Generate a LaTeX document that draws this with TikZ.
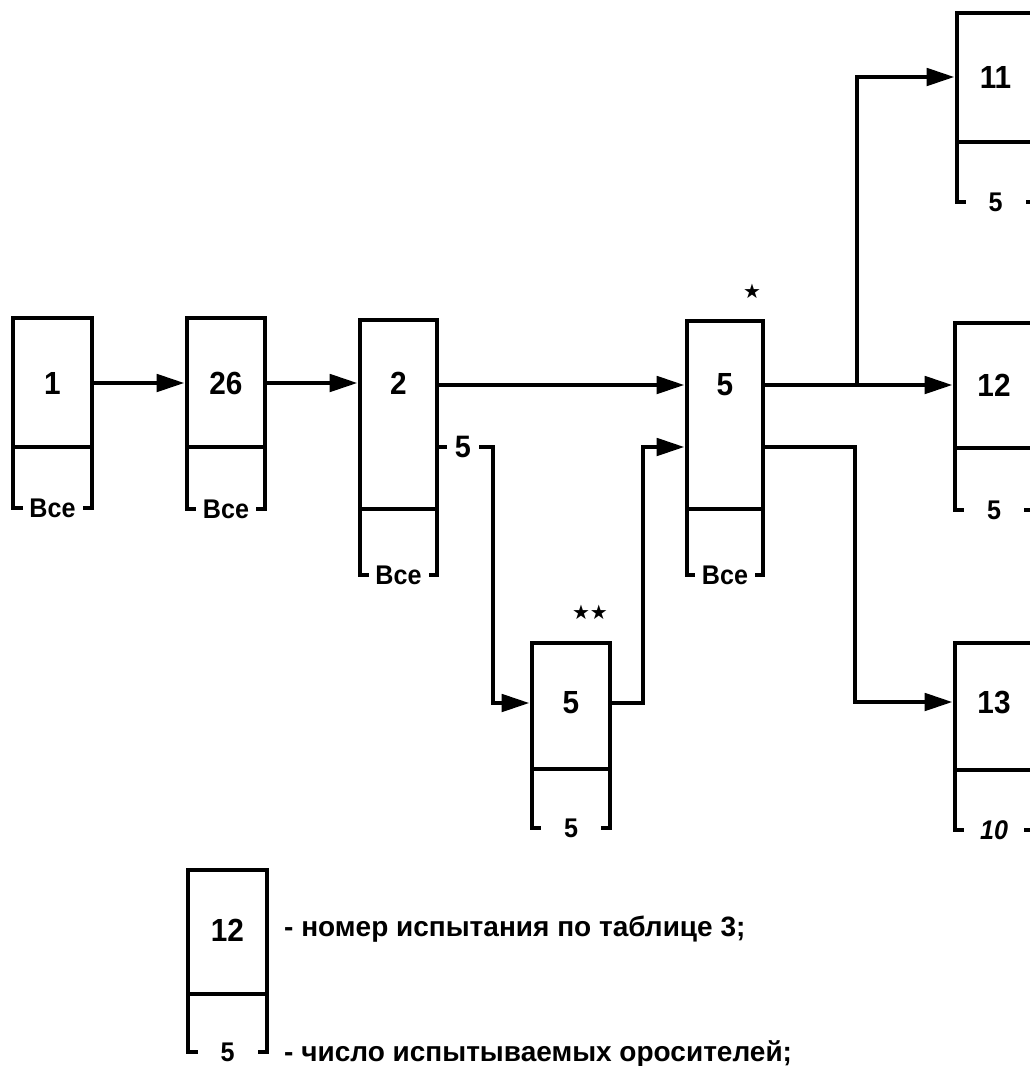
\documentclass[tikz,border=0pt]{standalone}
\usepackage{fontspec}
\setmainfont{Liberation Sans}
\newfontfamily\numfont[FakeStretch=0.93]{Liberation Sans}
\newfontfamily\legfont{Liberation Sans}
\newfontfamily\starfont{DejaVu Sans}
\usetikzlibrary{arrows.meta}

\tikzset{
  upbox/.style={draw, line width=4.6pt, rectangle, inner sep=0pt},
  lowside/.style={line width=3.8pt},
  arr/.style={line width=4.8pt, -{Triangle[length=28pt,width=17pt]}},
  num/.style={font=\numfont\bfseries\fontsize{32}{32}\selectfont, inner sep=0pt},
  botlab/.style={fill=white, inner sep=0pt, minimum width=#1, minimum height=24pt,
                 font=\numfont\bfseries\fontsize{27}{27}\selectfont},
  botlab/.default=60pt,
  linelab/.style={fill=white, inner sep=0pt, minimum width=32pt, minimum height=26pt,
                 font=\numfont\bfseries\fontsize{31}{31}\selectfont},
  starlab/.style={font=\starfont\fontsize{20}{20}\selectfont, inner sep=0pt},
  legt/.style={font=\legfont\bfseries\fontsize{28}{28}\selectfont, inner sep=0pt, anchor=west},
}

% name, xl, xr, top, div, bot, text y, top text, bottom text
\newcommand\trialbox[9]{%
  \node[upbox, minimum width={(#3-#2)*1pt}, minimum height={(#5-#4)*1pt}]
    (#1) at ({(#2+#3)/2},{(#4+#5)/2}) {};
  \draw[lowside] (#2,#5) -- (#2,#6) -- (#3,#6) -- (#3,#5);
  \node[num] (#1t) at ({(#2+#3)/2},#7) {#8};
  \node[botlab] (#1b) at ({(#2+#3)/2},#6) {#9};
}

\begin{document}
\begin{tikzpicture}[x=1pt,y=-1pt]
\useasboundingbox (0,0) rectangle (1030,1066);
\clip (0,0) rectangle (1030,1066);

% boxes
\trialbox{b1}{13}{92}{318}{447}{508}{383}{1}{Все}
\trialbox{b26}{187}{265}{318}{447}{509}{383}{26}{Все}
\trialbox{b2}{360}{437}{320}{509}{575}{383}{2}{Все}
\trialbox{b5}{687}{763}{321}{509}{575}{385}{5}{Все}
\trialbox{b5b}{532}{610}{643}{769}{828}{703}{5}{5}
\trialbox{b11}{957}{1034}{13}{142}{202}{77}{11}{5}
\trialbox{b12}{955}{1033}{323}{448}{510}{385}{12}{5}
\trialbox{b13}{955}{1033}{643}{770}{830}{702}{13}{\itshape 10}

% stars
\node[starlab] (st1) at (752,291) {★};
\node[starlab] (st2) at (590,612) {★★};

% helper coordinates
\coordinate (k1) at (493,447);
\coordinate (k2) at (643,447);
\coordinate (k3) at (855,447);
\coordinate (j1) at (857,385);

% connectors
\draw[arr] (b1t -| b1.east) -- (b1t -| b26.west);
\draw[arr] (b26t -| b26.east) -- (b26t -| b2.west);
\draw[arr] (b5t -| b2.east) -- (b5t -| b5.west);
\draw[arr] (b2.east |- k1) -- (k1) |- (b5bt -| b5b.west);
\node[linelab] (l5) at (463,447) {5};
\draw[arr] (b5bt -| b5b.east) -| (k2) -- (b5.west |- k2);
\draw[arr] (b5t -| b5.east) -- (b5t -| b12.west);
\draw[arr] (j1) |- (b11t -| b11.west);
\draw[arr] (b5.east |- k3) -- (k3) |- (b13t -| b13.west);

% legend
\trialbox{lg}{188}{267}{870}{994}{1052}{930}{12}{\raisebox{-6pt}{5}}
\node[legt] (leg1) at (284,929) {- номер испытания по таблице 3;};
\node[legt] (leg2) at (284,1054) {- число испытываемых оросителей;};
\end{tikzpicture}
\end{document}
